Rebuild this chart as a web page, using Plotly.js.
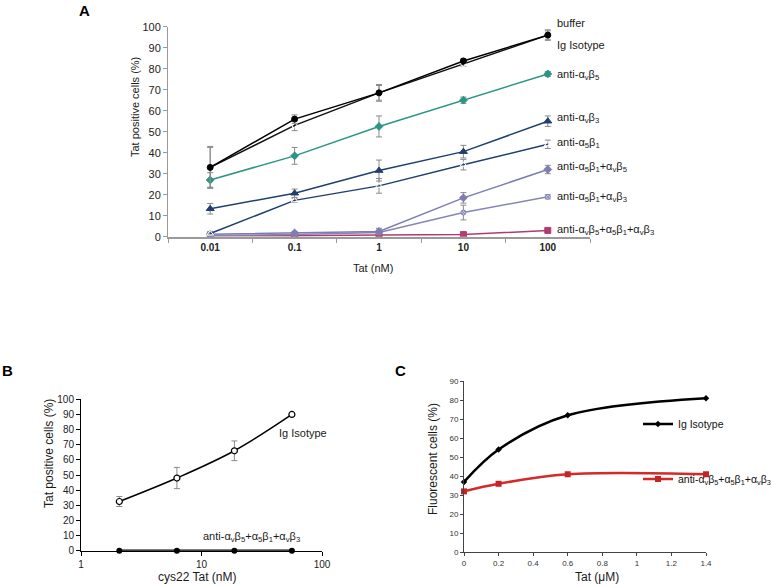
<!DOCTYPE html>
<html>
<head>
<meta charset="utf-8">
<script src="https://cdn.plot.ly/plotly-3.0.1.min.js"></script>
<style>html,body{margin:0;padding:0;background:#fff}#plot{width:778px;height:586px}</style>
</head>
<body>
<div id="plot"></div>
<script>
// ---------- Panel A data ----------
const concA = ['0.01', '0.1', '1', '10', '100'];
const bufferA = [33, 56, 68.5, 83.7, 96];
const bufferAErr = [10, 2, 4, 1, 2.5];
const igA = [33, 53, 68.5, 82.2, 96];
const igAErr = [9.5, 2.5, 3.5, 1, 2];
const avb5A = [27, 38.5, 52.5, 65, 77.5];
const avb5AErr = [3.5, 4, 5, 1.5, 1.2];
const avb3A = [13.3, 20.7, 31.5, 40.5, 55];
const avb3AErr = [2.5, 2, 5, 3, 2.5];
const a5b1A = [1.5, 17.3, 24.2, 34.3, 44];
const a5b1AErr = [1, 1, 3.5, 2.5, 2];
const a5b1avb5A = [1.2, 1.8, 2.5, 18.5, 32];
const a5b1avb5AErr = [0.5, 0.5, 1.5, 2.5, 2];
const a5b1avb3A = [0.6, 1, 2, 11.5, 19];
const a5b1avb3AErr = [0.5, 0.5, 1, 3.5, 1];
const tripleA = [0.5, 0.4, 0.8, 1, 3];
const tripleAErr = [0.3, 0.3, 0.3, 0.3, 0.5];
const labelsA = ['buffer', 'Ig Isotype', 'anti-α<sub>v</sub>β<sub>5</sub>', 'anti-α<sub>v</sub>β<sub>3</sub>',
  'anti-α<sub>5</sub>β<sub>1</sub>', 'anti-α<sub>5</sub>β<sub>1</sub>+α<sub>v</sub>β<sub>5</sub>',
  'anti-α<sub>5</sub>β<sub>1</sub>+α<sub>v</sub>β<sub>3</sub>',
  'anti-α<sub>v</sub>β<sub>5</sub>+α<sub>5</sub>β<sub>1</sub>+α<sub>v</sub>β<sub>3</sub>'];

// ---------- Panel B data ----------
const concB = [2.08, 6.25, 18.75, 56.25];
const igB = [32.5, 48, 66, 90];
const igBErr = [3.3, 7, 6.5, 1];
const tripleB = [0, 0, 0, 0];
const labelsB = ['Ig Isotype', 'anti-α<sub>v</sub>β<sub>5</sub>+α<sub>5</sub>β<sub>1</sub>+α<sub>v</sub>β<sub>3</sub>'];

// ---------- Panel C data ----------
const concC = [0, 0.2, 0.6, 1.4];
const igC = [37, 54, 72, 81];
const tripleC = [32, 36, 41, 41];
const labelsC = ['Ig Isotype', 'anti-α<sub>v</sub>β<sub>5</sub>+α<sub>5</sub>β<sub>1</sub>+α<sub>v</sub>β<sub>3</sub>'];

const W = 778, H = 586;
const px = v => v / W;
const py = v => 1 - v / H;
const FONT = 'Arial, "Liberation Sans", sans-serif';
const errStyle = {color: '#8a8a8a', thickness: 1, width: 3};

function seriesA(y, err, color, symbol, mfill, size) {
  return {
    x: concA, y: y, xaxis: 'x', yaxis: 'y', type: 'scatter', mode: 'lines+markers',
    line: {color: color, width: 1.5},
    marker: {symbol: symbol, size: size || 6, color: mfill || color, line: {color: color, width: 1}},
    error_y: Object.assign({type: 'data', array: err, visible: true}, errStyle),
    showlegend: false, hoverinfo: 'skip'
  };
}

const traces = [
  seriesA(tripleA, tripleAErr, '#b23a72', 'square', null, 6),
  seriesA(a5b1avb3A, a5b1avb3AErr, '#8585b8', 'circle-x', '#c9c9e3', 5),
  seriesA(a5b1avb5A, a5b1avb5AErr, '#7d7db3', 'diamond', null, 6),
  seriesA(a5b1A, a5b1AErr, '#1f3f6e', 'triangle-up-open', '#ffffff', 6),
  seriesA(avb3A, avb3AErr, '#1f3f6e', 'triangle-up', null, 7),
  seriesA(avb5A, avb5AErr, '#2a9686', 'diamond', null, 6),
  seriesA(igA, igAErr, '#111111', 'circle-open', '#ffffff', 5),
  seriesA(bufferA, bufferAErr, '#000000', 'circle', null, 6),
  // Panel B
  {x: concB, y: igB, xaxis: 'x2', yaxis: 'y2', type: 'scatter', mode: 'lines+markers',
   line: {color: '#000', width: 1.5, shape: 'spline'},
   marker: {symbol: 'circle', size: 6, color: '#fff', line: {color: '#000', width: 1.2}},
   error_y: Object.assign({type: 'data', array: igBErr, visible: true}, errStyle),
   showlegend: false, hoverinfo: 'skip'},
  {x: concB, y: tripleB, xaxis: 'x2', yaxis: 'y2', type: 'scatter', mode: 'lines+markers',
   line: {color: '#000', width: 2.5},
   marker: {symbol: 'circle', size: 6, color: '#000'},
   showlegend: false, hoverinfo: 'skip', cliponaxis: false},
  // Panel C
  {x: concC, y: igC, xaxis: 'x3', yaxis: 'y3', type: 'scatter', mode: 'lines+markers',
   name: labelsC[0], legend: 'legend',
   line: {color: '#000', width: 2.5, shape: 'spline'},
   marker: {symbol: 'diamond', size: 5, color: '#000'},
   showlegend: true, hoverinfo: 'skip', cliponaxis: false},
  {x: concC, y: tripleC, xaxis: 'x3', yaxis: 'y3', type: 'scatter', mode: 'lines+markers',
   name: labelsC[1], legend: 'legend2',
   line: {color: '#d42a2a', width: 2.5, shape: 'spline'},
   marker: {symbol: 'square', size: 6, color: '#c42424'},
   showlegend: true, hoverinfo: 'skip', cliponaxis: false}
];

function ann(x, y, text, size, opts) {
  return Object.assign({xref: 'paper', yref: 'paper', x: px(x), y: py(y), xanchor: 'center', yanchor: 'middle',
    text: text, showarrow: false, font: {family: FONT, size: size, color: '#1a1a1a'}}, opts || {});
}

// Labels for panel A, positioned at the right of the lines
const labelYA = [23.3, 45, 75, 118, 143, 167, 197, 230];
const annotations = [];
labelsA.forEach((t, i) => annotations.push(ann(555, labelYA[i], t, 11, {xanchor: 'left'})));
annotations.push(
  ann(277, 433, labelsB[0], 11, {xanchor: 'left'}),
  ann(201, 537, labelsB[1], 11, {xanchor: 'left'}),
  // panel letters
  ann(84, 10, '<b>A</b>', 15, {font: {family: FONT, size: 15, color: '#000'}}),
  ann(8, 370, '<b>B</b>', 15, {font: {family: FONT, size: 15, color: '#000'}}),
  ann(400, 370, '<b>C</b>', 15, {font: {family: FONT, size: 15, color: '#000'}}),
  // axis titles
  ann(135, 107, 'Tat positive cells (%)', 11, {textangle: -90}),
  ann(373, 268, 'Tat (nM)', 11),
  ann(49, 454, 'Tat positive cells (%)', 12, {textangle: -90}),
  ann(197, 577, 'cys22 Tat (nM)', 12),
  ann(433, 459, 'Fluorescent cells (%)', 12, {textangle: -90}),
  ann(597, 577, 'Tat (μM)', 12)
);

const greyAxis = '#9a9a9a';
const layout = {
  width: W, height: H,
  margin: {l: 0, r: 0, t: 0, b: 0, autoexpand: false},
  paper_bgcolor: '#fff', plot_bgcolor: 'rgba(0,0,0,0)',
  font: {family: FONT, color: '#222'},
  showlegend: true,
  xaxis: {domain: [px(168), px(590)], anchor: 'y', type: 'category', categoryorder: 'array', categoryarray: concA,
    range: [-0.5, 4.5], tickson: 'boundaries', ticks: 'outside', ticklen: 4, tickcolor: greyAxis,
    showline: true, linecolor: greyAxis, linewidth: 2, showgrid: false, zeroline: false,
    tickfont: {family: FONT, size: 10, color: '#222', weight: 'bold'}, fixedrange: true},
  yaxis: {domain: [py(236.7), py(26.7)], anchor: 'x', range: [0, 100], dtick: 10, ticks: 'outside', ticklen: 4,
    tickcolor: greyAxis, showline: true, linecolor: greyAxis, linewidth: 1, showgrid: false, zeroline: false,
    tickfont: {family: FONT, size: 11, color: '#222'}, fixedrange: true},
  xaxis2: {domain: [px(81), px(322)], anchor: 'y2', type: 'log', range: [0, 2], tickvals: [1, 10, 100], ticktext: ['1', '10', '100'],
    ticks: 'outside', ticklen: 4, tickcolor: '#000', showline: true, linecolor: '#000', linewidth: 1.5,
    showgrid: false, zeroline: false, tickfont: {family: FONT, size: 10, color: '#222'}, fixedrange: true},
  yaxis2: {domain: [py(550.7), py(399.3)], anchor: 'x2', range: [0, 100], dtick: 10, ticks: 'outside', ticklen: 4,
    tickcolor: '#000', showline: true, linecolor: '#000', linewidth: 1, showgrid: false, zeroline: false,
    tickfont: {family: FONT, size: 10, color: '#222'}, fixedrange: true},
  xaxis3: {domain: [px(464), px(706)], anchor: 'y3', range: [0, 1.4], dtick: 0.2, ticks: 'outside', ticklen: 3,
    tickcolor: '#444', showline: true, linecolor: '#444', linewidth: 1, showgrid: false, zeroline: false,
    tickfont: {family: FONT, size: 8, color: '#333'}, fixedrange: true},
  yaxis3: {domain: [py(552.3), py(381)], anchor: 'x3', range: [0, 90], dtick: 10, ticks: 'outside', ticklen: 3,
    tickcolor: '#444', showline: true, linecolor: '#444', linewidth: 1, showgrid: false, zeroline: false,
    tickfont: {family: FONT, size: 8, color: '#333'}, fixedrange: true},
  legend: {x: px(638), y: py(424), xanchor: 'left', yanchor: 'middle', bgcolor: 'rgba(0,0,0,0)',
    font: {family: FONT, size: 10.5, color: '#111'}, itemwidth: 30},
  legend2: {x: px(638), y: py(479), xanchor: 'left', yanchor: 'middle', bgcolor: 'rgba(0,0,0,0)',
    font: {family: FONT, size: 10.5, color: '#111'}, itemwidth: 30},
  annotations: annotations
};

Plotly.newPlot('plot', traces, layout, {displayModeBar: false, staticPlot: true});
</script>
</body>
</html>
